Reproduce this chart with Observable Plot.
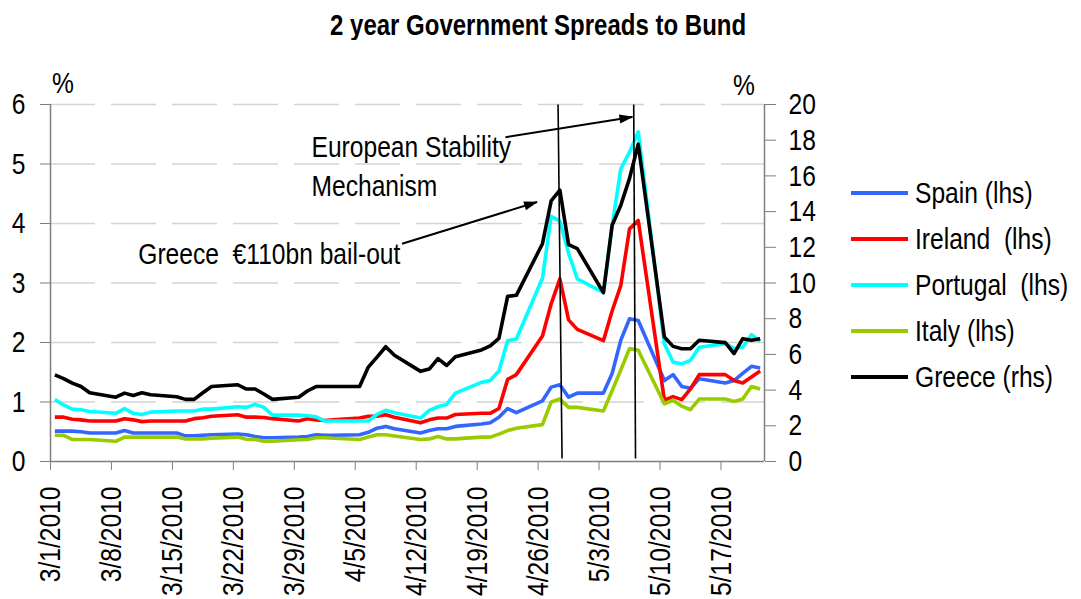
<!DOCTYPE html>
<html>
<head>
<meta charset="utf-8">
<script src="https://cdn.jsdelivr.net/npm/d3@7"></script>
<script src="https://cdn.jsdelivr.net/npm/@observablehq/plot@0.6"></script>
<style>
  body { margin: 0; background: #fff; font-family: "Liberation Sans", Arial, sans-serif; }
  #title { height: 40px; padding-top: 10px; box-sizing: border-box; width: 1081px; text-align: center; }
  #title span { display: inline-block; font-size: 30px; line-height: 30px; font-weight: bold; color: #000;
                transform: scaleX(0.8); transform-origin: 50% 50%; position: relative; left: -2px; }
  #chart { position: relative; width: 1081px; height: 559px; }
  .unit { position: absolute; font-size: 30px; line-height: 30px; color: #000; transform: scaleX(0.82); transform-origin: 0 50%; }
  .legend { position: absolute; left: 851px; top: 0; }
  .legend .row { position: absolute; left: 0; height: 30px; width: 230px; }
  .legend .swatch { position: absolute; left: 0; top: 13px; width: 57px; height: 4px; }
  .legend .label { position: absolute; left: 64px; top: 0; font-size: 30px; line-height: 30px; white-space: pre; color: #000;
                   transform: scaleX(0.82); transform-origin: 0 50%; }
</style>
</head>
<body>
<div id="title"><span>2 year Government Spreads to Bund</span></div>
<div id="chart"></div>
<script>
// Business days, March 1 to May 21, 2010
const dates = [
  "2010-03-01","2010-03-02","2010-03-03","2010-03-04","2010-03-05",
  "2010-03-08","2010-03-09","2010-03-10","2010-03-11","2010-03-12",
  "2010-03-15","2010-03-16","2010-03-17","2010-03-18","2010-03-19",
  "2010-03-22","2010-03-23","2010-03-24","2010-03-25","2010-03-26",
  "2010-03-29","2010-03-30","2010-03-31","2010-04-01","2010-04-02",
  "2010-04-05","2010-04-06","2010-04-07","2010-04-08","2010-04-09",
  "2010-04-12","2010-04-13","2010-04-14","2010-04-15","2010-04-16",
  "2010-04-19","2010-04-20","2010-04-21","2010-04-22","2010-04-23",
  "2010-04-26","2010-04-27","2010-04-28","2010-04-29","2010-04-30",
  "2010-05-03","2010-05-04","2010-05-05","2010-05-06","2010-05-07",
  "2010-05-10","2010-05-11","2010-05-12","2010-05-13","2010-05-14",
  "2010-05-17","2010-05-18","2010-05-19","2010-05-20","2010-05-21"
];

// 2-year spreads over the Bund, percentage points (left axis)
const spain = [
  0.51,0.51,0.51,0.50,0.48, 0.48,0.52,0.48,0.48,0.48,
  0.48,0.43,0.43,0.44,0.45, 0.46,0.45,0.42,0.40,0.40,
  0.41,0.42,0.45,0.44,0.44, 0.45,0.49,0.56,0.59,0.55,
  0.48,0.52,0.55,0.55,0.59, 0.63,0.65,0.745,0.89,0.82,
  1.02,1.25,1.29,1.08,1.15, 1.15,1.48,2.04,2.40,2.37,
  1.36,1.46,1.26,1.23,1.39, 1.32,1.36,1.48,1.60,1.57
];
const ireland = [
  0.745,0.745,0.71,0.70,0.68, 0.68,0.72,0.70,0.67,0.68,
  0.68,0.68,0.72,0.735,0.76, 0.785,0.745,0.745,0.74,0.72,
  0.68,0.72,0.70,0.69,0.70, 0.73,0.76,0.76,0.785,0.745,
  0.65,0.70,0.73,0.73,0.79, 0.81,0.81,0.89,1.38,1.46,
  2.11,2.65,3.07,2.38,2.22, 2.03,2.53,2.96,3.91,4.05,
  1.03,1.09,1.04,1.22,1.46, 1.46,1.36,1.32,1.42,1.52
];
const portugal = [
  1.04,0.95,0.88,0.87,0.84, 0.81,0.89,0.81,0.79,0.83,
  0.85,0.85,0.85,0.88,0.88, 0.92,0.91,0.96,0.91,0.78,
  0.78,0.77,0.75,0.68,0.68, 0.68,0.68,0.79,0.86,0.82,
  0.73,0.86,0.92,0.96,1.15, 1.33,1.36,1.52,2.03,2.06,
  3.08,4.12,4.04,3.50,3.07, 2.84,3.96,4.92,5.20,5.54,
  1.98,1.67,1.64,1.70,1.92, 1.98,1.90,1.92,2.13,2.02
];
const italy = [
  0.44,0.44,0.37,0.37,0.37, 0.34,0.41,0.41,0.41,0.41,
  0.41,0.38,0.38,0.38,0.39, 0.41,0.375,0.37,0.34,0.34,
  0.365,0.37,0.40,0.40,0.39, 0.37,0.41,0.45,0.45,0.43,
  0.37,0.38,0.42,0.38,0.38, 0.41,0.41,0.46,0.52,0.56,
  0.62,1.00,1.05,0.91,0.91, 0.85,1.19,1.54,1.90,1.87,
  0.97,1.03,0.93,0.87,1.05, 1.05,1.01,1.05,1.26,1.22
];
// Greece, percentage points (right axis)
const greece = [
  4.85,4.64,4.39,4.20,3.85, 3.60,3.83,3.70,3.85,3.74,
  3.63,3.48,3.48,3.85,4.20, 4.30,4.06,4.06,3.78,3.48,
  3.60,3.95,4.20,4.20,4.20, 4.20,5.29,5.85,6.43,5.95,
  5.05,5.18,5.76,5.38,5.87, 6.25,6.48,6.90,9.25,9.31,
  12.20,14.60,15.20,12.15,11.93, 9.46,13.24,14.36,15.86,17.78,
  6.97,6.45,6.32,6.32,6.79, 6.66,6.04,6.88,6.79,6.88
];

const seriesNames = ["Spain", "Ireland", "Portugal", "Italy", "Greece"];
const legendLabels = ["Spain (lhs)", "Ireland  (lhs)", "Portugal  (lhs)", "Italy (lhs)", "Greece (rhs)"];
const seriesColors = ["#3366ff", "#ff0000", "#00ffff", "#99cc00", "#000000"];
const leftTicks = [0, 1, 2, 3, 4, 5, 6];
const rightTicks = [0, 2, 4, 6, 8, 10, 12, 14, 16, 18, 20];
const weekTicks = ["2010-03-01","2010-03-08","2010-03-15","2010-03-22","2010-03-29","2010-04-05",
                   "2010-04-12","2010-04-19","2010-04-26","2010-05-03","2010-05-10","2010-05-17"];

// Event markers and notes (date, left-axis value)
const eventLines = [
  {top: "2010-04-28T07:00Z", bottom: "2010-04-28T18:00Z", top_v: 6, bottom_v: 0.05},
  {top: "2010-05-06T23:30Z", bottom: "2010-05-07T04:30Z", top_v: 6, bottom_v: 0.05}
];
const eventArrows = [
  {x1: "2010-04-10T09:00Z", y1: 3.66, x2: "2010-04-25T21:00Z", y2: 4.36},
  {x1: "2010-04-22T06:00Z", y1: 5.45, x2: "2010-05-06T20:00Z", y2: 5.79}
];
const eventNotes = [
  {x: "2010-03-30T23:30Z", y: 5.585, text: "European Stability\nMechanism"},
  {x: "2010-03-11T02:00Z", y: 3.785, text: "Greece \u00a0€110bn bail-out"}
];

// Right axis is 20/6 of the left one
const rhsFactor = 6 / 20;
const halfDay = 12 * 3600 * 1000;
const parse = (s) => new Date(s.length === 10 ? s + "T00:00Z" : s);

const seriesValues = [spain, ireland, portugal, italy, greece];
const rows = [];
seriesNames.forEach((name, k) => {
  seriesValues[k].forEach((v, i) => {
    rows.push({
      series: name,
      date: new Date(parse(dates[i]).getTime() + halfDay),
      value: name === "Greece" ? v * rhsFactor : v
    });
  });
});

const xStart = parse("2010-03-01");
const xEnd = parse("2010-05-22");
const axisGray = "#7f7f7f";

const plot = Plot.plot({
  width: 1081,
  height: 559,
  marginLeft: 50,
  marginRight: 317,
  marginTop: 64,
  marginBottom: 138,
  style: {fontFamily: '"Liberation Sans", Arial, sans-serif', fontSize: "30px", color: "#000", background: "#fff"},
  x: {type: "utc", domain: [xStart, xEnd]},
  y: {domain: [0, 6]},
  color: {domain: seriesNames, range: seriesColors},
  marks: [
    Plot.gridY(leftTicks.slice(1), {stroke: "#d4d4d4", strokeOpacity: 1, strokeWidth: 1.5, strokeDasharray: "45,16"}),
    Plot.axisY(leftTicks, {anchor: "left", tickSize: 10, tickPadding: 15, stroke: axisGray, fill: "#000", label: null, fontSize: 30,
      tickFormat: (d) => String(d)}),
    Plot.axisY(rightTicks.map((d) => d * rhsFactor), {anchor: "right", tickSize: 11, tickPadding: 13, stroke: axisGray, fill: "#000", label: null, fontSize: 30,
      tickFormat: (d) => String(Math.round(d / rhsFactor))}),
    Plot.axisX(weekTicks.map(parse), {anchor: "bottom", tickSize: 9, tickPadding: 16, tickRotate: -90, stroke: axisGray, fill: "#000", label: null, fontSize: 30,
      tickFormat: d3.utcFormat("%-m/%-d/%Y")}),
    Plot.ruleX([xStart, xEnd], {stroke: axisGray, strokeWidth: 1.5}),
    Plot.ruleY([0], {stroke: axisGray, strokeWidth: 1.5}),
    Plot.line(rows, {x: "date", y: "value", z: "series", stroke: "series", strokeWidth: 3.6, strokeLinejoin: "round", strokeLinecap: "butt"}),
    Plot.link(eventLines, {x1: (d) => parse(d.top), y1: "top_v", x2: (d) => parse(d.bottom), y2: "bottom_v", stroke: "#000", strokeWidth: 1.6}),
    Plot.link(eventArrows, {x1: (d) => parse(d.x1), y1: "y1", x2: (d) => parse(d.x2), y2: "y2", stroke: "#000", strokeWidth: 2, markerEnd: "arrow"}),
    Plot.text(eventNotes, {x: (d) => parse(d.x), y: "y", text: "text", textAnchor: "start", lineAnchor: "top", lineHeight: 1.3, fontSize: 30, fill: "#000"})
  ]
});

// Solid triangular arrowheads
plot.querySelectorAll("marker").forEach((m) => {
  m.setAttribute("viewBox", "-13 -5 14 10");
  m.setAttribute("markerWidth", 14 / 2);
  m.setAttribute("markerHeight", 10 / 2);
  m.setAttribute("overflow", "visible");
  m.querySelectorAll("path").forEach((p) => {
    p.setAttribute("d", "M-13,-4.5L1,0L-13,4.5Z");
    p.setAttribute("fill", "#000");
    p.setAttribute("stroke", "none");
  });
});

// Narrow lettering: squeeze every label along its own writing direction
const squeeze = 0.82;
plot.querySelectorAll("text").forEach((t) => {
  const tr = t.getAttribute("transform");
  if (tr) {
    t.setAttribute("transform", `${tr} scale(${squeeze},1)`);
  } else {
    const x = +t.getAttribute("x") || 0;
    const y = +t.getAttribute("y") || 0;
    t.setAttribute("x", 0);
    t.setAttribute("y", 0);
    t.querySelectorAll("tspan[x]").forEach((s) => s.setAttribute("x", 0));
    t.setAttribute("transform", `translate(${x},${y}) scale(${squeeze},1)`);
  }
});

const chart = document.getElementById("chart");
chart.appendChild(plot);

// Unit labels above each axis
const unitLeft = document.createElement("div");
unitLeft.className = "unit";
unitLeft.style.left = "52px";
unitLeft.style.top = "28px";
unitLeft.textContent = "%";
chart.appendChild(unitLeft);
const unitRight = document.createElement("div");
unitRight.className = "unit";
unitRight.style.left = "733px";
unitRight.style.top = "30px";
unitRight.textContent = "%";
chart.appendChild(unitRight);

// Legend
const legend = document.createElement("div");
legend.className = "legend";
seriesNames.forEach((name, k) => {
  const row = document.createElement("div");
  row.className = "row";
  row.style.top = (138 + k * 46) + "px";
  const sw = document.createElement("div");
  sw.className = "swatch";
  sw.style.background = seriesColors[k];
  const lab = document.createElement("div");
  lab.className = "label";
  lab.textContent = legendLabels[k];
  row.appendChild(sw);
  row.appendChild(lab);
  legend.appendChild(row);
});
chart.appendChild(legend);
</script>
</body>
</html>
